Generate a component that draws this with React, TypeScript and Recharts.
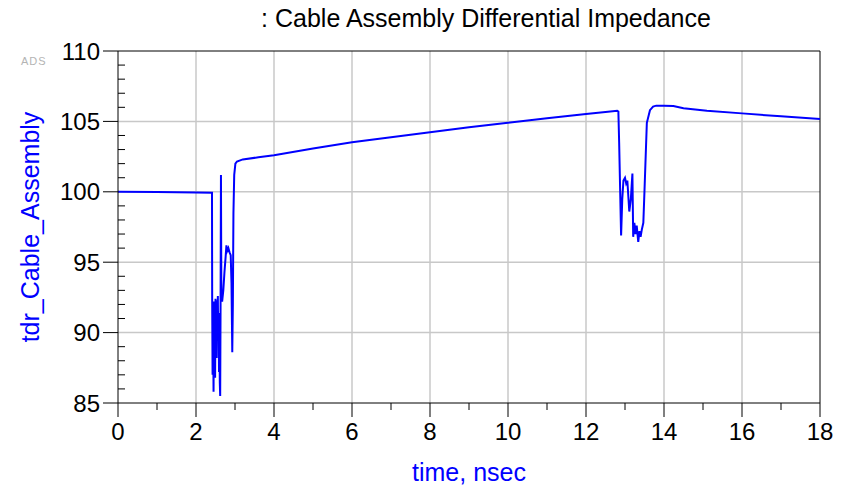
import React from 'react'
import {
  LineChart,
  Line,
  XAxis,
  YAxis,
  ReferenceLine,
} from 'recharts'

// TDR trace: time in nsec, impedance in ohm
const timeNs: number[] = [
  0, 1, 2, 2.41, 2.415, 2.425, 2.435, 2.45, 2.46, 2.47, 2.48, 2.49, 2.5, 2.51,
  2.52, 2.53, 2.54, 2.55, 2.56, 2.57, 2.58, 2.59, 2.6, 2.61, 2.62, 2.63, 2.64,
  2.65, 2.67, 2.7, 2.73, 2.76, 2.78, 2.8, 2.83, 2.86, 2.89, 2.91, 2.93, 2.945,
  2.96, 2.98, 3.01, 3.05, 3.2, 3.6, 4, 5, 6, 7, 8, 9, 10, 11, 12, 12.5, 12.8,
  12.83, 12.85, 12.9, 12.93, 12.96, 13, 13.03, 13.06, 13.11, 13.15, 13.19,
  13.21, 13.24, 13.27, 13.3, 13.34, 13.37, 13.4, 13.43, 13.47, 13.5, 13.56,
  13.64, 13.72, 13.8, 14, 14.24, 14.5, 15.1, 16, 17, 18,
]

const impedance: number[] = [
  100, 99.98, 99.95, 99.93, 92.3, 87, 91.8, 85.8, 92.2, 88, 91.5, 86.8, 92.4, 89,
  91.8, 88.2, 92.3, 90.2, 92.6, 89.5, 91.4, 87.2, 90.5, 86.5, 85.5, 92, 101.2,
  92.5, 92.2, 93, 94.3, 95.4, 96.2, 95.8, 96, 95.7, 95.5, 93.5, 88.6, 92,
  98.5, 101.2, 102, 102.15, 102.3, 102.45, 102.6, 103.07, 103.52, 103.88, 104.23,
  104.58, 104.91, 105.23, 105.53, 105.66, 105.75,
  105.7, 103.5, 96.9, 99.5, 100.8, 101, 100.6, 100.8, 98.6, 99.5, 101.3,
  96.8, 97.8, 97, 97.6, 96.45, 97.2, 96.8, 97.3, 97.8, 100.1, 104.9,
  105.8, 106.05, 106.12, 106.12, 106.1, 105.93, 105.76, 105.57, 105.36, 105.17,
]

const xTicks = Array.from({ length: 19 }, (_, i) => i)
const yTicks = Array.from({ length: 26 }, (_, i) => 85 + i)
const xGrid = [2, 4, 6, 8, 10, 12, 14, 16]
const yGrid = [90, 95, 100, 105]

const data = timeNs.map((t, i) => ({ t, z: impedance[i] }))

const FONT = '"Liberation Sans", Arial, sans-serif'

const YTick = (props: any) => {
  const { x, y, payload } = props
  const v = payload.value
  if (v % 5 !== 0) {
    return <line x1={x} x2={x + 7} y1={y} y2={y} stroke="#000" />
  }
  return (
    <g>
      <line x1={x - 15} x2={x} y1={y} y2={y} stroke="#000" />
      <text x={x - 18} y={y + 8.5} textAnchor="end" fontSize={24} fontFamily={FONT} fill="#000">
        {v}
      </text>
    </g>
  )
}

const XTick = (props: any) => {
  const { x, y, payload } = props
  const v = payload.value
  if (v % 2 !== 0) {
    return <line x1={x} x2={x} y1={y} y2={y + 7} stroke="#000" />
  }
  return (
    <g>
      <line x1={x} x2={x} y1={y} y2={y + 14} stroke="#000" />
      <text x={x} y={y + 37} textAnchor="middle" fontSize={24} fontFamily={FONT} fill="#000">
        {v}
      </text>
    </g>
  )
}

const YTitle = (props: any) => {
  const vb = props.viewBox
  const cx = vb.x + 30
  const cy = vb.y + vb.height / 2
  return (
    <text
      x={cx}
      y={cy}
      transform={`rotate(-90, ${cx}, ${cy})`}
      textAnchor="middle"
      dominantBaseline="central"
      fontSize={25}
      fontFamily={FONT}
      fill="#0000ff"
    >
      tdr_Cable_Assembly
    </text>
  )
}

const XTitle = (props: any) => {
  const vb = props.viewBox
  return (
    <text
      x={vb.x + vb.width / 2}
      y={vb.y + vb.height - 8}
      textAnchor="middle"
      fontSize={25}
      fontFamily={FONT}
      fill="#0000ff"
    >
      time, nsec
    </text>
  )
}

export default function App() {
  return (
    <div style={{ position: 'absolute', left: 0, top: 0, width: 843, height: 489, background: '#fff' }}>
      <div
        style={{
          position: 'absolute',
          left: 0,
          width: 972,
          top: 4,
          textAlign: 'center',
          fontFamily: FONT,
          fontSize: 25,
          color: '#000',
          whiteSpace: 'nowrap',
        }}
      >
        : Cable Assembly Differential Impedance
      </div>
      <div
        style={{
          position: 'absolute',
          left: 21,
          top: 55,
          fontFamily: FONT,
          fontSize: 11,
          letterSpacing: 1,
          color: '#b4b4b4',
        }}
      >
        ADS
      </div>
      <LineChart width={843} height={489} data={data} margin={{ top: 51, right: 23, bottom: 0, left: 0 }}>
        {xGrid.map((v) => (
          <ReferenceLine key={'gx' + v} x={v} stroke="#c8c8c8" strokeWidth={1.5} />
        ))}
        {yGrid.map((v) => (
          <ReferenceLine key={'gy' + v} y={v} stroke="#c8c8c8" strokeWidth={1.5} />
        ))}
        <ReferenceLine y={110} stroke="#000" />
        <ReferenceLine x={18} stroke="#000" />
        <XAxis
          dataKey="t"
          type="number"
          domain={[0, 18]}
          ticks={xTicks}
          interval={0}
          tickSize={0}
          tickMargin={0}
          tick={<XTick />}
          tickLine={false}
          axisLine={{ stroke: '#000' }}
          height={86}
          label={<XTitle />}
        />
        <YAxis
          type="number"
          domain={[85, 110]}
          ticks={yTicks}
          interval={0}
          tickSize={0}
          tickMargin={0}
          tick={<YTick />}
          tickLine={false}
          axisLine={{ stroke: '#000' }}
          width={118}
          allowDataOverflow
          label={<YTitle />}
        />
        <Line
          type="linear"
          dataKey="z"
          stroke="#0000ff"
          strokeWidth={2}
          dot={false}
          isAnimationActive={false}
        />
      </LineChart>
    </div>
  )
}
